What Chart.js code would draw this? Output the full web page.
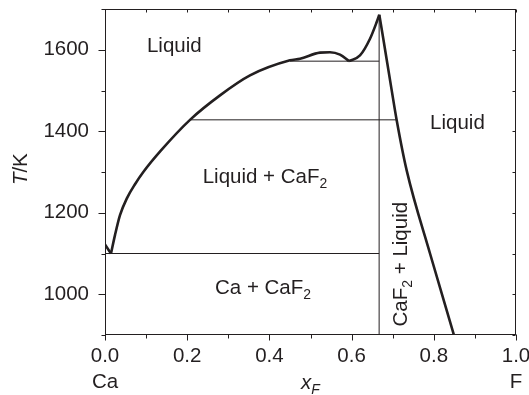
<!DOCTYPE html>
<html>
<head>
<meta charset="utf-8">
<script src="https://cdn.jsdelivr.net/npm/chart.js@4/dist/chart.umd.min.js"></script>
<style>
html,body{margin:0;padding:0;background:#fff;}
canvas{display:block;}
</style>
</head>
<body>
<canvas id="c" width="529" height="395"></canvas>
<script>
// ---- data (mole fraction of F, temperature in K) ----
const caSideX = [0, 0.0146];
const caSideT = [1122, 1100];
const caf2LiquidusX = [0.0146, 0.0243, 0.0365, 0.0535, 0.073, 0.0932, 0.1363, 0.2068, 0.2798, 0.3528, 0.4501, 0.4745, 0.5231, 0.5474, 0.5718, 0.5937];
const caf2LiquidusT = [1100, 1145, 1194, 1236, 1270, 1300, 1353, 1428, 1488, 1537, 1574, 1578, 1593, 1594, 1588, 1572];
const peakRiseX = [0.5937, 0.6204, 0.6448, 0.6611, 0.6674];
const peakRiseT = [1572, 1586, 1627, 1668, 1686];
const fSideX = [0.6674, 0.6771, 0.697, 0.7097, 0.734, 0.7908, 0.849];
const fSideT = [1686, 1627, 1504, 1427, 1304, 1100, 900];
const tieT = [1100, 1428, 1572];
const tieFrom = [0, 0.2068, 0.4501];
const tieTo = [0.667, 0.7097, 0.667];
const compoundX = 0.667;
const compoundT = [900, 1686];
const xTickLabels = {0: ['0.0', 'Ca'], 0.2: ['0.2'], 0.4: ['0.4'], 0.6: ['0.6'], 0.8: ['0.8'], 1: ['1.0', 'F']};
const yTickLabels = [1000, 1200, 1400, 1600];

const FONT = '"Liberation Sans", Arial, Helvetica, sans-serif';
const FS = 20.5;
const INK = '#231f20';

const zip = (xs, ys) => xs.map((x, i) => ({x: x, y: ys[i]}));
const curve = (xs, ys) => ({data: zip(xs, ys), borderColor: INK, borderWidth: 2.6, pointRadius: 0, cubicInterpolationMode: 'monotone', fill: false});
const thin = (data) => ({data: data, borderColor: INK, borderWidth: 1, pointRadius: 0, tension: 0, fill: false});

const datasets = [];
tieT.forEach((t, i) => datasets.push(thin([{x: tieFrom[i], y: t}, {x: tieTo[i], y: t}])));
datasets.push(thin(compoundT.map(t => ({x: compoundX, y: t}))));
datasets.push(curve(caSideX, caSideT));
datasets.push(curve(caf2LiquidusX, caf2LiquidusT));
datasets.push(curve(peakRiseX, peakRiseT));
datasets.push(curve(fSideX, fSideT));

function runsWidth(ctx, runs) {
  let w = 0;
  for (const [t, s] of runs) { ctx.font = fontFor(s); w += ctx.measureText(t).width; }
  return w;
}
function fontFor(s) {
  const sub = s.indexOf('sub') >= 0;
  const it = s.indexOf('it') >= 0;
  return (it ? 'italic ' : '') + (sub ? FS * 0.68 : FS) + 'px ' + FONT;
}
function drawRuns(ctx, runs, x, y) {
  let cx = x;
  for (const [t, s] of runs) {
    ctx.font = fontFor(s);
    const dy = s.indexOf('sub') >= 0 ? FS * 0.24 : 0;
    ctx.fillText(t, cx, y + dy);
    cx += ctx.measureText(t).width;
  }
}

const decor = {
  id: 'decor',
  afterDraw(chart) {
    const ctx = chart.ctx, xs = chart.scales.x, ys = chart.scales.y, a = chart.chartArea;
    ctx.save();
    ctx.strokeStyle = INK;
    ctx.lineWidth = 1;
    const L = Math.round(a.left) + 0.5, R = Math.round(a.right) - 0.5, T = Math.round(a.top) + 0.5, B = Math.round(a.bottom) - 0.5;
    ctx.strokeRect(L, T, R - L, B - T);
    ctx.beginPath();
    xs.ticks.forEach(tk => {
      const p = Math.round(xs.getPixelForValue(tk.value)) + 0.5;
      const major = Math.round(tk.value * 10) % 2 === 0;
      ctx.moveTo(p, B); ctx.lineTo(p, B + (major ? 6 : 4));
      ctx.moveTo(p, T); ctx.lineTo(p, T + 3);
    });
    ys.ticks.forEach(tk => {
      const p = Math.round(ys.getPixelForValue(tk.value)) + 0.5;
      const major = tk.value % 200 === 0;
      ctx.moveTo(L, p); ctx.lineTo(L - (major ? 7 : 4), p);
      ctx.moveTo(R, p); ctx.lineTo(R - 3, p);
    });
    ctx.stroke();

    ctx.fillStyle = INK;
    ctx.textBaseline = 'alphabetic';
    ctx.textAlign = 'left';
    const P = (x, t) => [xs.getPixelForValue(x), ys.getPixelForValue(t)];
    let q;
    q = P(0.102, 1594); drawRuns(ctx, [['Liquid', 'n']], q[0], q[1]);
    q = P(0.791, 1406); drawRuns(ctx, [['Liquid', 'n']], q[0], q[1]);
    q = P(0.2377, 1273); drawRuns(ctx, [['Liquid + CaF', 'n'], ['2', 'sub']], q[0], q[1]);
    q = P(0.2676, 1001); drawRuns(ctx, [['Ca + CaF', 'n'], ['2', 'sub']], q[0], q[1]);
    // rotated region label
    q = P(0.7355, 921);
    ctx.save(); ctx.translate(q[0], q[1]); ctx.rotate(-Math.PI / 2);
    drawRuns(ctx, [['CaF', 'n'], ['2', 'sub'], [' + Liquid', 'n']], 0, 0);
    ctx.restore();
    // y-axis title T/K
    const yt = [['T', 'it'], ['/K', 'n']];
    const yw = runsWidth(ctx, yt);
    const yc = ys.getPixelForValue(1307);
    ctx.save(); ctx.translate(27, yc + yw / 2); ctx.rotate(-Math.PI / 2);
    drawRuns(ctx, yt, 0, 0);
    ctx.restore();
    // x-axis title x_F
    const xt = [['x', 'it'], ['F', 'itsub']];
    const xw = runsWidth(ctx, xt);
    drawRuns(ctx, xt, xs.getPixelForValue(0.5) - xw / 2, a.bottom + 54);
    ctx.restore();
  }
};

new Chart(document.getElementById('c'), {
  type: 'line',
  data: {datasets: datasets},
  options: {
    responsive: false,
    devicePixelRatio: 1,
    animation: false,
    events: [],
    layout: {padding: {top: 9, right: 13, left: 0, bottom: 0}},
    plugins: {legend: {display: false}, tooltip: {enabled: false}},
    scales: {
      x: {
        type: 'linear', min: 0, max: 1,
        grid: {display: false, drawTicks: false},
        border: {display: false},
        ticks: {
          stepSize: 0.1, padding: 9, color: INK, maxRotation: 0, autoSkip: false,
          font: {family: FONT, size: FS, lineHeight: 1.25},
          callback: (v) => { const k = Math.round(v * 10) / 10; return xTickLabels[k] || ''; }
        },
        afterFit: (s) => { s.height = 60; s.paddingLeft = 0; s.paddingRight = 0; }
      },
      y: {
        type: 'linear', min: 900, max: 1700,
        grid: {display: false, drawTicks: false},
        border: {display: false},
        ticks: {
          stepSize: 100, padding: 16, color: INK, autoSkip: false,
          font: {family: FONT, size: FS},
          callback: (v) => yTickLabels.indexOf(v) >= 0 ? String(v) : ''
        },
        afterFit: (s) => { s.width = 105; s.paddingTop = 0; s.paddingBottom = 0; }
      }
    }
  },
  plugins: [decor]
});
</script>
</body>
</html>
